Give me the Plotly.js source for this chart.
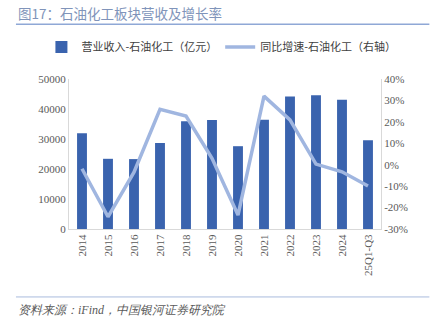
<!DOCTYPE html>
<html>
<head>
<meta charset="utf-8">
<script src="https://cdn.plot.ly/plotly-3.0.1.min.js"></script>
<style>html,body{margin:0;padding:0;background:#fff;}#chart{width:436px;height:328px;}</style>
</head>
<body>
<div id="chart"></div>
<script>
const categories = ['2014','2015','2016','2017','2018','2019','2020','2021','2022','2023','2024','25Q1-Q3'];
const revenue = [31900, 23400, 23300, 28700, 35900, 36300, 27600, 36400, 44200, 44600, 43100, 29600];
const growth = [-1.9, -24.3, -3.5, 25.9, 22.7, 3.0, -23.5, 32.0, 20.9, 0.3, -3.3, -9.9];
const leftTicks = [0, 10000, 20000, 30000, 40000, 50000];
const rightTicks = [-30, -20, -10, 0, 10, 20, 30, 40];

const serif = 'Liberation Serif, Times New Roman, serif';
const cjk = 'Noto Sans CJK SC, sans-serif';

const traces = [
  {
    type: 'bar', x: categories, y: revenue, name: '营业收入-石油化工（亿元）',
    marker: {color: '#3A63AE'}, width: 0.38, yaxis: 'y', legend: 'legend'
  },
  {
    type: 'scatter', mode: 'lines', x: categories, y: growth, name: '同比增速-石油化工（右轴）',
    line: {color: '#A0B6E0', width: 3.5}, yaxis: 'y2', legend: 'legend2'
  }
];

const legFont = {family: cjk, size: 11, color: '#404040'};
const layout = {
  width: 436, height: 328,
  margin: {l: 69, r: 55, t: 79, b: 99},
  paper_bgcolor: '#fff', plot_bgcolor: '#fff',
  showlegend: true,
  legend: {
    orientation: 'h', x: 0.095, xanchor: 'left', xref: 'container',
    y: 0.857, yref: 'container', yanchor: 'middle', font: legFont
  },
  legend2: {
    orientation: 'h', x: 0.505, xanchor: 'left', xref: 'container',
    y: 0.857, yref: 'container', yanchor: 'middle', font: legFont
  },
  xaxis: {
    type: 'category', tickangle: -90, showline: true, linecolor: '#D9D9D9', linewidth: 1,
    ticks: '', showgrid: false, tickfont: {family: serif, size: 11, color: '#595959'}
  },
  yaxis: {
    range: [0, 50000], tickvals: leftTicks, ticktext: leftTicks.map(String),
    showline: true, linecolor: '#D9D9D9', showgrid: false, zeroline: false, ticks: '',
    tickfont: {family: serif, size: 11, color: '#595959'}
  },
  yaxis2: {
    overlaying: 'y', side: 'right', range: [-30, 40], tickvals: rightTicks,
    ticktext: rightTicks.map(v => v + '%'),
    showline: true, linecolor: '#D9D9D9', showgrid: false, zeroline: false, ticks: '',
    tickfont: {family: serif, size: 11, color: '#595959'}
  },
  shapes: [
    {type: 'line', xref: 'paper', yref: 'paper', x0: -0.17, x1: 1.155, y0: 1.365, y1: 1.365,
     line: {color: '#8FA8D6', width: 1.5}},
    {type: 'line', xref: 'paper', yref: 'paper', x0: -0.17, x1: 1.155, y0: -0.453, y1: -0.453,
     line: {color: '#A9BBDD', width: 1}}
  ],
  annotations: [
    {text: '图17：石油化工板块营收及增长率', xref: 'paper', yref: 'paper', x: -0.17, xanchor: 'left',
     y: 1.44, yanchor: 'middle', showarrow: false,
     font: {family: cjk, size: 13.5, color: '#8094BA'}},
    {text: '<i>资料来源：iFind，中国银河证券研究院</i>', xref: 'paper', yref: 'paper', x: -0.17, xanchor: 'left',
     y: -0.54, yanchor: 'middle', showarrow: false,
     font: {family: serif, size: 12, color: '#595959'}}
  ]
};

Plotly.newPlot('chart', traces, layout, {displayModeBar: false, staticPlot: true});
</script>
</body>
</html>
